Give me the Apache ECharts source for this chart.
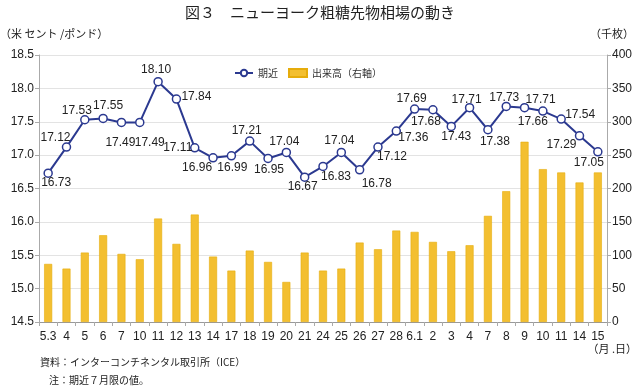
<!DOCTYPE html>
<html><head><meta charset="utf-8">
<script src="https://cdn.jsdelivr.net/npm/echarts@6/dist/echarts.min.js"></script>
<style>html,body{margin:0;padding:0;background:#fff}#c{width:640px;height:388px}</style>
</head><body><div id="c"></div>
<script>
const categories = ['5.3','4','5','6','7','10','11','12','13','14','17','18','19','20','21','24','25','26','27','28','6.1','2','3','4','7','8','9','10','11','14','15'];
const nearbyPrice = [16.73,17.12,17.53,17.55,17.49,17.49,18.10,17.84,17.11,16.96,16.99,17.21,16.95,17.04,16.67,16.83,17.04,16.78,17.12,17.36,17.69,17.68,17.43,17.71,17.38,17.73,17.71,17.66,17.54,17.29,17.05];
const volume = [87,80,104,130,102,94,155,117,161,98,77,107,90,60,104,77,80,119,109,137,135,120,106,115,159,196,270,229,224,209,224];
const seriesNames = ['期近','出来高（右軸）'];
const titleText = '図３　ニューヨーク粗糖先物相場の動き';
const leftAxisName = '（米 セント /ポンド）';
const rightAxisName = '（千枚）';
const xAxisName = '（月 .日）';
const notes = ['資料：インターコンチネンタル取引所（ICE）','注：期近７月限の値。'];
// label offsets (style only): [dx, dy] from each marker's centre
const labelOffsets = [[8,9.5],[-11,-9.5],[-8,-9.5],[5,-13],[-1,20],[10,20],[-2,-12],[20,-2.5],[-17,0],[-16,10],[1,12],[-3,-10],[1,11],[-2,-11],[-2,10],[13,10],[-2,-12],[17,14],[14,10],[17,7],[-3,-10],[-7,11.5],[5,10],[-3,-8.5],[7,11.5],[-2,-8.5],[16,-8],[-10,10.5],[19,-4.5],[-18,8.5],[-9,10.5]];

const NUM = "'Liberation Sans Narrow','Liberation Sans',sans-serif";
const JP = "'Noto Sans CJK JP',sans-serif";
const chart = echarts.init(document.getElementById('c'), null, {renderer:'canvas'});
chart.setOption({
  animation:false,
  backgroundColor:'#fff',
  title:{text:titleText,left:'center',top:0,textStyle:{fontFamily:JP,fontSize:15,fontWeight:'normal',color:'#222'}},
  legend:{data:[{name:seriesNames[0]},{name:seriesNames[1],icon:'rect'}],left:229,top:63,itemWidth:18,itemHeight:8,itemGap:10,textStyle:{fontFamily:JP,fontSize:10,color:'#333'}},
  grid:{left:39,right:33,top:55,bottom:66,containLabel:false,outerBoundsMode:'none'},
  xAxis:{type:'category',data:categories,
    axisLine:{lineStyle:{color:'#999'}},
    axisTick:{show:true,length:4,lineStyle:{color:'#aaa'}},
    axisLabel:{interval:0,margin:9,fontFamily:NUM,fontSize:12,color:'#222'}},
  yAxis:[
    {type:'value',min:14.5,max:18.5,interval:0.5,position:'left',
     axisLine:{show:true,lineStyle:{color:'#aaa'}},
     axisTick:{show:true,length:4,lineStyle:{color:'#aaa'}},
     axisLabel:{margin:5,fontFamily:NUM,fontSize:12,color:'#222',formatter:v=>v.toFixed(1)},
     splitLine:{lineStyle:{color:'#e3e3e3'}}},
    {type:'value',min:0,max:400,interval:50,position:'right',
     axisLine:{show:true,lineStyle:{color:'#aaa'}},
     axisTick:{show:true,length:4,lineStyle:{color:'#aaa'}},
     axisLabel:{margin:5,fontFamily:NUM,fontSize:12,color:'#222'},
     splitLine:{show:false}}
  ],
  series:[
    {name:seriesNames[1],type:'bar',yAxisIndex:1,data:volume,barWidth:8,z:1,
     itemStyle:{color:'#F3BF30',borderColor:'#E6AC0C',borderWidth:0.6}},
    {name:seriesNames[0],type:'line',yAxisIndex:0,z:3,
     data:nearbyPrice.map((v,i)=>({value:v,label:{offset:labelOffsets[i]}})),
     symbol:'circle',symbolSize:8,
     lineStyle:{color:'#2B3990',width:2},
     itemStyle:{color:'#fff',borderColor:'#2B3990',borderWidth:1.5},
     label:{show:true,position:'inside',fontFamily:NUM,fontSize:12,color:'#222',formatter:p=>p.value.toFixed(2)}}
  ],
  graphic:[
    {type:'text',left:0,top:28,style:{text:leftAxisName,font:"11px 'Noto Sans CJK JP'",fill:'#222'}},
    {type:'text',right:6,top:28,style:{text:rightAxisName,font:"11px 'Noto Sans CJK JP'",fill:'#222'}},
    {type:'text',right:3,top:343,style:{text:xAxisName,font:"11px 'Noto Sans CJK JP'",fill:'#222'}},
    {type:'text',left:40,top:357,style:{text:notes[0],font:"10px 'Noto Sans CJK JP'",fill:'#222'}},
    {type:'text',left:49,top:375,style:{text:notes[1],font:"10px 'Noto Sans CJK JP'",fill:'#222'}}
  ]
});
</script></body></html>
